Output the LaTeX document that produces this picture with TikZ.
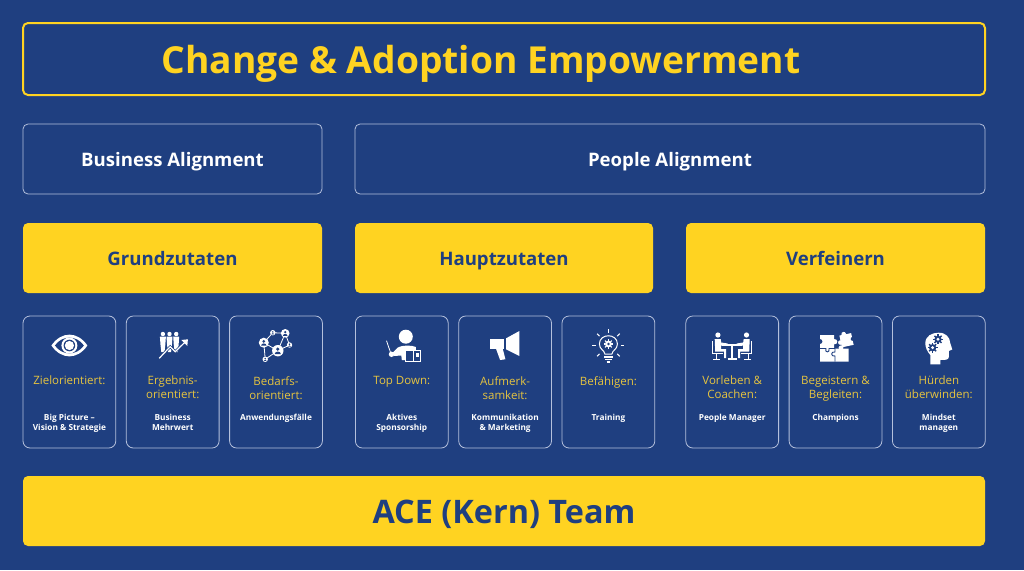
\documentclass[tikz,border=0pt]{standalone}
\usepackage{fontspec}
\setmainfont{Open Sans}
\usepackage{xcolor}
\usetikzlibrary{calc}
\usetikzlibrary{positioning}
\definecolor{mynavy}{HTML}{1F3F80}
\definecolor{myyellow}{HTML}{FFD321}
\definecolor{mygold}{HTML}{E6C440}
\definecolor{myline}{HTML}{B4C0DC}
\tikzset{node distance=29pt, every text node part/.style={align=center}}
\tikzstyle{block} = [draw=myline, rounded corners=5pt, line width=0.8pt, inner sep=0pt, outer sep=0pt, minimum height=70pt, text=white, text height=15.4pt, text depth=0pt, font={\fontsize{18.6}{22}\selectfont\bfseries}]
\tikzstyle{headbox} = [block, draw=myyellow, line width=2pt, minimum width=962pt, minimum height=72pt, text=myyellow, text height=29.4pt, font={\fontsize{37.2}{42}\selectfont\bfseries}]
\tikzstyle{goldbox} = [block, draw=none, fill=myyellow, text=mynavy]
\tikzstyle{card} = [draw=myline, rounded corners=7pt, line width=0.8pt, inner sep=0pt, outer sep=0pt, minimum width=92.8pt, minimum height=132pt]
\tikzstyle{lab} = [inner sep=0pt, anchor=north, text=mygold, execute at begin node={\strut}, font={\fontsize{11.5}{14}\selectfont}]
\tikzstyle{sub} = [inner sep=0pt, anchor=north, text=white, execute at begin node={\strut}, font={\fontsize{8.3}{10}\selectfont\bfseries}]
\tikzstyle{ico} = [fill=white, draw=none]
\tikzstyle{icoline} = [draw=white, line width=1pt]
\tikzstyle{cut} = [fill=mynavy, draw=none]
\tikzset{
  eyeicon/.pic={
    \fill[ico] (-18,29.5) .. controls (-8,15) and (8,15) .. (18,29.5) .. controls (8,44) and (-8,44) .. (-18,29.5) -- cycle;
    \fill[cut] (-14.5,29.5) .. controls (-7,19) and (7,19) .. (14.5,29.5) .. controls (7,40) and (-7,40) .. (-14.5,29.5) -- cycle;
    \fill[ico] (0,29.5) circle (8);
    \fill[cut] (0,29.5) circle (5.8);
    \fill[ico] (0,29.5) circle (4.6);
  },
  growicon/.pic={
    \foreach \x in {-9.8,-3.2,3.5}{
      \fill[ico] (\x,18) circle (2.2);
      \fill[ico] (\x-3,20.5) -- (\x+3,20.5) -- (\x+2.4,29) -- (\x+1.6,36) -- (\x-1.6,36) -- (\x-2.4,29) -- cycle;
    }
    \draw[draw=mynavy, line width=2.6pt] (-13.5,42.3) -- (-2.5,30.7) -- (2.5,35.7) -- (13,25.5);
    \draw[icoline, line width=1.2pt] (-13.5,42.3) -- (-2.5,30.7) -- (2.5,35.7) -- (13,25.5);
    \fill[ico] (15.2,23.3) -- (14.6,30) -- (8.6,24) -- cycle;
  },
  person/.pic={
    \fill[ico] (0,0) circle (#1);
    \fill[cut] (0,-0.28*#1) circle (0.3*#1);
    \fill[cut] (-0.55*#1,0.6*#1) .. controls (-0.5*#1,0) and (0.5*#1,0) .. (0.55*#1,0.6*#1) -- cycle;
  },
  neticon/.pic={
    \draw[icoline, line width=0.8pt] (-12.2,26.7) -- (-3.2,16.7) -- (9.2,17.3) -- (13.5,29) -- (1.8,34.7) -- (-10.8,43.3) -- (-12.2,26.7) -- (1.8,34.7) -- (9.2,17.3);
    \pic at (-12.2,26.7) {person=5};
    \pic at (9.2,17.3) {person=4.3};
    \pic at (1.8,34.7) {person=5.7};
    \pic at (-3.2,16.7) {person=2.7};
    \pic at (13.5,29) {person=2.7};
    \pic at (-10.8,43.3) {person=2.7};
  },
  teachicon/.pic={
    \fill[ico] (4,20.7) circle (7);
    \draw[icoline, line width=0.8pt] (-15.3,24.7) -- (-11,37.3);
    \fill[ico] (-10.3,38.3) circle (2.7);
    \fill[ico] (-9,36.5) -- (-4,31.5) .. controls (0,29) and (10,29) .. (14,31) -- (14,34) -- (4,34) -- (4,44) -- (0,44) -- (-0.5,39.5) -- (-8,40) -- cycle;
    \draw[icoline, fill=mynavy] (4,34) rectangle (19,45.5);
    \draw[icoline] (11.5,34) -- (11.5,45.5);
    \fill[ico] (14,37) rectangle (17,41);
  },
  megaicon/.pic={
    \fill[ico] (1,22.3) -- (14.3,15) -- (14.3,40) -- (1,33.3) -- cycle;
    \fill[ico] (-14.7,23.3) -- (-0.7,23.3) -- (-0.7,33.3) -- (-14.7,33.3) -- cycle;
    \fill[ico] (-9,33) -- (-2.3,33) -- (0.3,43.3) -- (-5,44) -- cycle;
  },
  bulbicon/.pic={
    \draw[icoline] (-3.5,38) .. controls (-4,34) and (-9,33.5) .. (-9,28) .. controls (-9,17) and (9,17) .. (9,28) .. controls (9,33.5) and (4,34) .. (3.5,38) -- cycle;
    \foreach \a in {0,45,135,180,225,270,315}
      \draw[icoline] (\a:12.5) ++(0,29) -- ++(\a:3.5);
    \fill[ico] (0,28) circle (3.4);
    \foreach \a in {0,45,...,315}
      \draw[icoline, line width=1.1pt] ($(0,28)+(\a:3)$) -- ($(0,28)+(\a:4.8)$);
    \fill[cut] (0,28) circle (1.4);
    \draw[icoline, line width=1.3pt] (-4.3,41) -- (4.3,41);
    \draw[icoline, line width=1.3pt] (-3.4,43.6) -- (3.4,43.6);
    \draw[icoline, line width=1.3pt] (-1.8,46) -- (1.8,46);
  },
  sitter/.pic={
    \fill[ico] (-14.3,19) circle (2.6);
    \fill[ico] (-17.5,23) -- (-11.5,23) -- (-11,26.5) -- (-4.5,27.5) -- (-4.5,29.5) -- (-11,29.5) -- (-11,33) -- (-6,33) -- (-6,42) -- (-8,42) -- (-8,35.5) -- (-17,35.5) -- cycle;
    \draw[icoline] (-19.5,25) -- (-19.5,37.5) -- (-9,37.5);
    \draw[icoline] (-16,37.5) -- (-16,43);
    \draw[icoline] (-19,43) -- (-12,43);
  },
  meeticon/.pic={
    \pic {sitter};
    \pic[xscale=-1] {sitter};
    \draw[icoline, line width=1.5pt] (-10,29) -- (10,29);
    \draw[icoline, line width=1.5pt] (0,29) -- (0,42.5);
    \draw[icoline, line width=1.3pt] (-4.5,43) -- (4.5,43);
  },
  puzzleicon/.pic={
    \fill[ico] (-15.5,19) -- (-1.5,19) -- (-1.5,32.5) -- (13,32.5) -- (13,45.7) -- (-15.5,45.7) -- cycle;
    \fill[ico] (-0.8,25.7) circle (2.6);
    \fill[ico] (5.5,31.8) circle (2.4);
    \draw[draw=mynavy, line width=0.9pt] (-15.5,32.5) -- (-9.5,32.5) .. controls (-11.5,37) and (-5,37) .. (-6.5,32.5) -- (-0.5,32.5) -- (-0.5,36) .. controls (-5,35) and (-5,41) .. (-0.5,40) -- (-0.5,45.7);
    \fill[cut] (-15.5,25.5) circle (2.4);
    \begin{scope}[shift={(11,24.2)}, rotate=12]
      \fill[ico] (-6,-6) rectangle (6,6);
      \fill[ico] (-1.5,-6.5) circle (2.3);
      \fill[ico] (-6.5,1) circle (2.3);
      \fill[cut] (6.3,0) circle (2);
    \end{scope}
  },
  gearmark/.pic={
    \fill[cut] (0,0) circle (3.6);
    \foreach \a in {0,45,...,315}
      \draw[draw=mynavy, line width=1.4pt] (0,0) -- (\a:5);
    \fill[ico] (0,0) circle (1.6);
  },
  headicon/.pic={
    \fill[ico] (-8.5,48.3) -- (-8.5,39) .. controls (-12,35) and (-13.5,31) .. (-13.5,27.3) .. controls (-13.5,20) and (-7,16.7) .. (-0.2,16.7) .. controls (7,16.7) and (11,21) .. (11.5,27.3) -- (13.5,33.5) -- (10,35) -- (10,41) .. controls (10,44) and (6,44) .. (1.5,44) -- (1.5,48.3) -- cycle;
    \pic at (-0.8,23.3) {gearmark};
    \pic at (-6.2,31.7) {gearmark};
  },
}

\begin{document}
\begin{tikzpicture}[x=1pt, y=-1pt]
  \fill[mynavy] (0,0) rectangle (1024,570);
  \useasboundingbox (0,0) rectangle (1024,570);
  \node[headbox] (title) at (504,59) {\hspace*{-46pt}Change \& Adoption Empowerment};

  \node[block, minimum width=299pt, below=29pt of title.south west, anchor=north west] (business) {Business Alignment};
  \node[block, minimum width=630pt, right=33pt of business] (people) {People Alignment};

  \node[goldbox, minimum width=299pt, below=of business] (grund) {Grundzutaten};
  \node[goldbox, minimum width=298pt, right=33pt of grund] (haupt) {Hauptzutaten};
  \node[goldbox, minimum width=299pt, right=33pt of haupt] (fein) {Verfeinern};

  \node[card, below=23pt of grund.south west, anchor=north west] (ziel) {};
  \node[card, right=10.5pt of ziel] (ergebnis) {};
  \node[card, right=10.5pt of ergebnis] (bedarf) {};
  \node[card, right=33pt of bedarf] (top) {};
  \node[card, right=10.5pt of top] (aufmerk) {};
  \node[card, right=10.5pt of aufmerk] (befaehig) {};
  \node[card, right=31pt of befaehig] (vorleben) {};
  \node[card, right=10.5pt of vorleben] (begeist) {};
  \node[card, right=10.5pt of begeist] (huerden) {};

  \node[goldbox, minimum width=962pt, below=28pt of ziel.south west, anchor=north west, text height=25.5pt, font={\fontsize{32.4}{38}\selectfont\bfseries}] (team) {ACE (Kern) Team};

  % labels of the small cards
  \foreach \n/\a/\b in {ziel/{Zielorientiert:\\\mbox{}}/{Big Picture --\\Vision \& Strategie},
      ergebnis/{Ergebnis-\\orientiert:}/{Business\\Mehrwert},
      bedarf/{Bedarfs-\\orientiert:}/{Anwendungsfälle\\\mbox{}},
      top/{Top Down:\\\mbox{}}/{Aktives\\Sponsorship},
      aufmerk/{Aufmerk-\\samkeit:}/{Kommunikation\\\& Marketing},
      befaehig/{Befähigen:\\\mbox{}}/{Training\\\mbox{}},
      vorleben/{Vorleben \&\\Coachen:}/{People Manager\\\mbox{}},
      begeist/{Begeistern \&\\Begleiten:}/{Champions\\\mbox{}},
      huerden/{Hürden\\überwinden:}/{Mindset\\managen}}{
    \node[lab] (\n lab) at ([yshift=-60pt]\n.north) {\a};
    \node[sub] (\n sub) at ([yshift=-98pt]\n.north) {\b};
  }

  \pic at (ziel.north) {eyeicon};
  \pic at (ergebnis.north) {growicon};
  \pic at (bedarf.north) {neticon};
  \pic at (top.north) {teachicon};
  \pic at (aufmerk.north) {megaicon};
  \pic at (befaehig.north) {bulbicon};
  \pic at (vorleben.north) {meeticon};
  \pic at (begeist.north) {puzzleicon};
  \pic at (huerden.north) {headicon};
\end{tikzpicture}
\end{document}
